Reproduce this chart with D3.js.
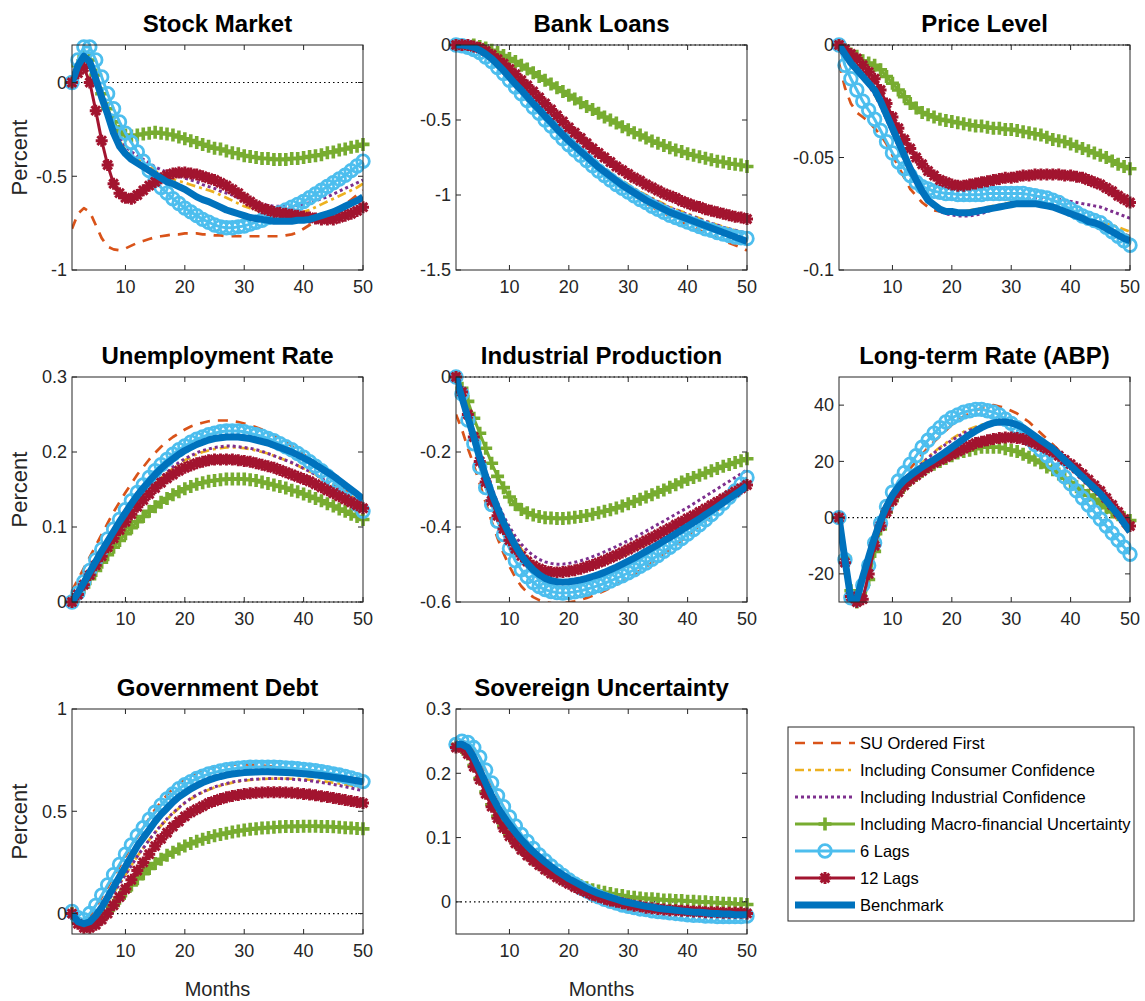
<!DOCTYPE html>
<html>
<head>
<meta charset="utf-8">
<script src="https://cdn.jsdelivr.net/npm/d3@7"></script>
<style>
  html, body { margin: 0; padding: 0; background: #ffffff; }
  svg { display: block; font-family: "Liberation Sans", Arial, sans-serif; }
</style>
</head>
<body>
<svg id="chart" width="1145" height="1001"></svg>
<script>
// Impulse responses to a sovereign-uncertainty shock, months 1..50.
// Each panel array holds seven series in this order:
// SU ordered first, consumer confidence, industrial confidence,
// macro-financial uncertainty, 6 lags, 12 lags, benchmark.
const months = d3.range(1, 51);

const seriesNames = [
  "SU Ordered First",
  "Including Consumer Confidence",
  "Including Industrial Confidence",
  "Including Macro-financial Uncertainty",
  "6 Lags",
  "12 Lags",
  "Benchmark"
];

const panelTitles = [
  "Stock Market", "Bank Loans", "Price Level",
  "Unemployment Rate", "Industrial Production", "Long-term Rate (ABP)",
  "Government Debt", "Sovereign Uncertainty"
];

const xTicks = [10, 20, 30, 40, 50];

const stockMarketTicks = [-1, -0.5, 0];
const bankLoansTicks = [-1.5, -1, -0.5, 0];
const priceLevelTicks = [-0.1, -0.05, 0];
const unemploymentTicks = [0, 0.1, 0.2, 0.3];
const industrialTicks = [-0.6, -0.4, -0.2, 0];
const longRateTicks = [-20, 0, 20, 40];
const debtTicks = [0, 0.5, 1];
const sovereignTicks = [0, 0.1, 0.2, 0.3];

const stockMarketRange = [-1, 0.2];
const bankLoansRange = [-1.5, 0];
const priceLevelRange = [-0.1, 0];
const unemploymentRange = [0, 0.3];
const industrialRange = [-0.6, 0];
const longRateRange = [-30, 50];
const debtRange = [-0.1, 1];
const sovereignRange = [-0.05, 0.3];

const stockMarket = [
  [-0.78,-0.70,-0.67,-0.69,-0.76,-0.83,-0.875,-0.89,-0.895,-0.885,
   -0.87,-0.855,-0.845,-0.835,-0.825,-0.82,-0.815,-0.81,-0.81,-0.805,
   -0.805,-0.805,-0.81,-0.81,-0.815,-0.815,-0.82,-0.82,-0.82,-0.82,
   -0.82,-0.82,-0.82,-0.82,-0.82,-0.82,-0.815,-0.81,-0.80,-0.78,
   -0.76,-0.74,-0.72,-0.705,-0.69,-0.67,-0.65,-0.625,-0.60,-0.575],
  [0,0.08,0.13,0.11,0.03,-0.06,-0.15,-0.24,-0.31,-0.36,
   -0.39,-0.41,-0.43,-0.45,-0.47,-0.49,-0.50,-0.515,-0.525,-0.535,
   -0.545,-0.555,-0.565,-0.575,-0.585,-0.60,-0.615,-0.63,-0.645,-0.66,
   -0.67,-0.68,-0.69,-0.695,-0.70,-0.705,-0.705,-0.70,-0.695,-0.69,
   -0.68,-0.665,-0.65,-0.635,-0.62,-0.605,-0.59,-0.575,-0.56,-0.54],
  [0,0.09,0.14,0.12,0.04,-0.05,-0.14,-0.22,-0.29,-0.34,
   -0.37,-0.39,-0.41,-0.43,-0.45,-0.465,-0.48,-0.49,-0.50,-0.51,
   -0.52,-0.53,-0.545,-0.555,-0.565,-0.58,-0.59,-0.60,-0.615,-0.625,
   -0.635,-0.645,-0.65,-0.655,-0.66,-0.66,-0.66,-0.66,-0.655,-0.65,
   -0.64,-0.63,-0.62,-0.61,-0.595,-0.58,-0.565,-0.55,-0.535,-0.52],
  [0,0.09,0.14,0.12,0.04,-0.06,-0.14,-0.21,-0.26,-0.28,
   -0.285,-0.28,-0.275,-0.27,-0.265,-0.27,-0.275,-0.28,-0.29,-0.30,
   -0.31,-0.32,-0.33,-0.34,-0.35,-0.355,-0.365,-0.375,-0.38,-0.39,
   -0.395,-0.40,-0.405,-0.405,-0.41,-0.41,-0.41,-0.405,-0.405,-0.40,
   -0.395,-0.39,-0.385,-0.375,-0.37,-0.36,-0.355,-0.345,-0.34,-0.33],
  [0,0.12,0.19,0.19,0.12,0.03,-0.06,-0.14,-0.21,-0.27,
   -0.32,-0.37,-0.42,-0.47,-0.52,-0.56,-0.59,-0.62,-0.645,-0.67,
   -0.69,-0.71,-0.73,-0.745,-0.76,-0.77,-0.775,-0.775,-0.77,-0.765,
   -0.755,-0.745,-0.735,-0.72,-0.71,-0.695,-0.68,-0.665,-0.65,-0.635,
   -0.615,-0.595,-0.575,-0.555,-0.535,-0.515,-0.495,-0.47,-0.445,-0.42],
  [0,0.05,0.08,0.0,-0.15,-0.31,-0.44,-0.54,-0.59,-0.615,
   -0.62,-0.60,-0.575,-0.55,-0.53,-0.51,-0.495,-0.485,-0.48,-0.48,
   -0.485,-0.49,-0.50,-0.51,-0.52,-0.535,-0.55,-0.57,-0.59,-0.615,
   -0.635,-0.655,-0.67,-0.68,-0.69,-0.695,-0.70,-0.705,-0.71,-0.715,
   -0.72,-0.725,-0.73,-0.73,-0.73,-0.72,-0.71,-0.70,-0.685,-0.665],
  [0,0.09,0.14,0.11,0.02,-0.08,-0.17,-0.27,-0.34,-0.38,
   -0.41,-0.43,-0.45,-0.47,-0.49,-0.51,-0.53,-0.54,-0.555,-0.57,
   -0.59,-0.61,-0.625,-0.635,-0.65,-0.665,-0.68,-0.69,-0.70,-0.71,
   -0.72,-0.725,-0.73,-0.735,-0.74,-0.74,-0.74,-0.74,-0.735,-0.735,
   -0.73,-0.72,-0.71,-0.70,-0.69,-0.675,-0.66,-0.645,-0.63,-0.61]
];

const bankLoans = [
  [0,-0.005,-0.015,-0.03,-0.05,-0.08,-0.11,-0.15,-0.19,-0.235,
   -0.28,-0.325,-0.37,-0.415,-0.455,-0.50,-0.54,-0.58,-0.62,-0.66,
   -0.695,-0.73,-0.765,-0.80,-0.835,-0.865,-0.895,-0.925,-0.955,-0.98,
   -1.005,-1.03,-1.055,-1.08,-1.10,-1.12,-1.14,-1.16,-1.18,-1.20,
   -1.215,-1.235,-1.25,-1.27,-1.285,-1.30,-1.32,-1.335,-1.35,-1.37],
  [0,0,-0.005,-0.015,-0.03,-0.055,-0.085,-0.12,-0.16,-0.20,
   -0.245,-0.29,-0.33,-0.375,-0.415,-0.455,-0.50,-0.54,-0.58,-0.615,
   -0.655,-0.69,-0.725,-0.76,-0.79,-0.82,-0.85,-0.88,-0.905,-0.93,
   -0.955,-0.98,-1.0,-1.02,-1.04,-1.06,-1.08,-1.095,-1.11,-1.125,
   -1.14,-1.155,-1.17,-1.185,-1.20,-1.21,-1.225,-1.235,-1.245,-1.26],
  [0,0,-0.005,-0.015,-0.035,-0.06,-0.09,-0.125,-0.165,-0.205,
   -0.25,-0.295,-0.335,-0.38,-0.42,-0.46,-0.505,-0.545,-0.585,-0.62,
   -0.66,-0.695,-0.73,-0.765,-0.795,-0.825,-0.855,-0.885,-0.91,-0.935,
   -0.96,-0.985,-1.005,-1.025,-1.045,-1.065,-1.085,-1.10,-1.115,-1.13,
   -1.145,-1.16,-1.175,-1.19,-1.20,-1.215,-1.225,-1.235,-1.245,-1.255],
  [0,0.005,0.005,0,-0.01,-0.02,-0.035,-0.05,-0.07,-0.09,
   -0.11,-0.135,-0.16,-0.185,-0.21,-0.235,-0.26,-0.285,-0.31,-0.335,
   -0.36,-0.385,-0.41,-0.43,-0.455,-0.48,-0.50,-0.52,-0.545,-0.565,
   -0.585,-0.60,-0.62,-0.64,-0.655,-0.67,-0.685,-0.70,-0.71,-0.725,
   -0.735,-0.745,-0.755,-0.765,-0.775,-0.78,-0.79,-0.795,-0.80,-0.81],
  [0,-0.005,-0.015,-0.03,-0.05,-0.08,-0.11,-0.15,-0.19,-0.235,
   -0.28,-0.325,-0.37,-0.415,-0.455,-0.50,-0.54,-0.585,-0.625,-0.665,
   -0.70,-0.735,-0.77,-0.805,-0.84,-0.87,-0.90,-0.93,-0.955,-0.98,
   -1.005,-1.03,-1.05,-1.075,-1.095,-1.115,-1.135,-1.15,-1.165,-1.18,
   -1.195,-1.21,-1.225,-1.235,-1.25,-1.26,-1.27,-1.28,-1.285,-1.29],
  [0,0,0,-0.01,-0.02,-0.04,-0.065,-0.095,-0.125,-0.16,
   -0.195,-0.235,-0.27,-0.31,-0.35,-0.39,-0.43,-0.47,-0.51,-0.55,
   -0.585,-0.62,-0.655,-0.69,-0.72,-0.75,-0.78,-0.81,-0.835,-0.86,
   -0.885,-0.905,-0.93,-0.95,-0.97,-0.99,-1.005,-1.02,-1.04,-1.055,
   -1.07,-1.08,-1.095,-1.105,-1.115,-1.125,-1.135,-1.145,-1.15,-1.16],
  [0,0,-0.005,-0.015,-0.035,-0.06,-0.09,-0.13,-0.17,-0.215,
   -0.26,-0.30,-0.345,-0.39,-0.43,-0.475,-0.515,-0.56,-0.60,-0.64,
   -0.675,-0.71,-0.745,-0.78,-0.815,-0.845,-0.875,-0.905,-0.935,-0.96,
   -0.985,-1.01,-1.035,-1.055,-1.075,-1.095,-1.115,-1.13,-1.145,-1.16,
   -1.175,-1.19,-1.205,-1.22,-1.235,-1.25,-1.265,-1.28,-1.295,-1.31]
];

const priceLevel = [
  [-0.008,-0.019,-0.026,-0.03,-0.032,-0.034,-0.037,-0.04,-0.044,-0.049,
   -0.054,-0.059,-0.064,-0.067,-0.07,-0.072,-0.0735,-0.074,-0.0745,-0.075,
   -0.075,-0.075,-0.0745,-0.074,-0.0735,-0.073,-0.0725,-0.072,-0.0715,-0.071,
   -0.071,-0.071,-0.071,-0.071,-0.0715,-0.072,-0.0725,-0.073,-0.074,-0.075,
   -0.0765,-0.078,-0.0785,-0.079,-0.080,-0.081,-0.082,-0.083,-0.084,-0.085],
  [0,-0.005,-0.009,-0.012,-0.015,-0.018,-0.022,-0.027,-0.033,-0.039,
   -0.045,-0.051,-0.057,-0.062,-0.066,-0.069,-0.071,-0.072,-0.073,-0.0735,
   -0.074,-0.074,-0.0735,-0.073,-0.0725,-0.072,-0.0715,-0.071,-0.0705,-0.070,
   -0.070,-0.070,-0.070,-0.070,-0.0705,-0.071,-0.0715,-0.072,-0.073,-0.074,
   -0.075,-0.076,-0.077,-0.078,-0.079,-0.0795,-0.080,-0.081,-0.082,-0.083],
  [0,-0.004,-0.008,-0.012,-0.015,-0.018,-0.022,-0.027,-0.033,-0.039,
   -0.045,-0.051,-0.057,-0.062,-0.066,-0.070,-0.072,-0.074,-0.075,-0.0755,
   -0.076,-0.076,-0.076,-0.0755,-0.075,-0.074,-0.073,-0.072,-0.071,-0.070,
   -0.0695,-0.069,-0.0685,-0.068,-0.068,-0.068,-0.068,-0.0685,-0.069,-0.0695,
   -0.070,-0.0705,-0.071,-0.0715,-0.072,-0.073,-0.074,-0.075,-0.076,-0.077],
  [0,-0.002,-0.004,-0.005,-0.007,-0.008,-0.009,-0.011,-0.014,-0.017,
   -0.020,-0.023,-0.026,-0.028,-0.030,-0.031,-0.032,-0.033,-0.0335,-0.034,
   -0.0345,-0.035,-0.0355,-0.036,-0.036,-0.0365,-0.037,-0.037,-0.0375,-0.0375,
   -0.038,-0.0385,-0.039,-0.0395,-0.040,-0.041,-0.042,-0.0425,-0.043,-0.044,
   -0.045,-0.046,-0.047,-0.048,-0.049,-0.050,-0.0515,-0.053,-0.054,-0.055],
  [0,-0.009,-0.015,-0.02,-0.025,-0.029,-0.033,-0.038,-0.043,-0.048,
   -0.052,-0.055,-0.058,-0.061,-0.063,-0.064,-0.065,-0.0655,-0.066,-0.066,
   -0.0665,-0.0665,-0.0665,-0.0665,-0.0665,-0.066,-0.066,-0.066,-0.066,-0.066,
   -0.066,-0.066,-0.0665,-0.067,-0.0675,-0.068,-0.069,-0.070,-0.0715,-0.073,
   -0.0745,-0.076,-0.077,-0.078,-0.079,-0.081,-0.083,-0.085,-0.087,-0.089],
  [0,-0.002,-0.004,-0.006,-0.009,-0.012,-0.015,-0.020,-0.026,-0.032,
   -0.037,-0.042,-0.046,-0.050,-0.053,-0.056,-0.058,-0.060,-0.061,-0.062,
   -0.0625,-0.0625,-0.062,-0.0615,-0.061,-0.0605,-0.060,-0.0595,-0.059,-0.059,
   -0.0585,-0.058,-0.058,-0.0575,-0.0575,-0.0575,-0.0575,-0.0575,-0.058,-0.058,
   -0.0585,-0.059,-0.060,-0.061,-0.062,-0.0635,-0.065,-0.067,-0.0685,-0.070],
  [0,-0.004,-0.008,-0.011,-0.014,-0.017,-0.020,-0.025,-0.031,-0.037,
   -0.043,-0.049,-0.055,-0.060,-0.065,-0.069,-0.071,-0.073,-0.074,-0.074,
   -0.0745,-0.0745,-0.0745,-0.074,-0.0735,-0.073,-0.0725,-0.072,-0.0715,-0.071,
   -0.0705,-0.0705,-0.0705,-0.0705,-0.071,-0.0715,-0.072,-0.073,-0.074,-0.075,
   -0.076,-0.077,-0.0785,-0.079,-0.080,-0.0815,-0.083,-0.0845,-0.086,-0.087]
];

const unemploymentRate = [
  [0.015,0.03,0.045,0.06,0.075,0.09,0.105,0.12,0.133,0.146,
   0.158,0.17,0.18,0.19,0.199,0.207,0.214,0.22,0.225,0.23,
   0.234,0.237,0.239,0.241,0.242,0.242,0.242,0.241,0.24,0.238,
   0.236,0.233,0.23,0.226,0.222,0.218,0.213,0.208,0.203,0.197,
   0.191,0.185,0.179,0.172,0.165,0.158,0.151,0.144,0.137,0.13],
  [0,0.011,0.024,0.037,0.05,0.063,0.075,0.087,0.099,0.11,
   0.121,0.131,0.14,0.149,0.157,0.165,0.172,0.178,0.184,0.189,
   0.193,0.197,0.2,0.202,0.204,0.205,0.206,0.206,0.206,0.205,
   0.204,0.202,0.2,0.198,0.195,0.192,0.189,0.185,0.182,0.178,
   0.174,0.17,0.165,0.161,0.156,0.151,0.146,0.141,0.136,0.131],
  [0,0.011,0.024,0.037,0.05,0.063,0.075,0.087,0.099,0.11,
   0.121,0.131,0.141,0.15,0.158,0.166,0.173,0.18,0.186,0.191,
   0.195,0.199,0.202,0.204,0.206,0.207,0.208,0.208,0.207,0.206,
   0.205,0.203,0.201,0.198,0.195,0.192,0.189,0.186,0.182,0.178,
   0.174,0.17,0.165,0.16,0.155,0.15,0.145,0.14,0.135,0.13],
  [0,0.009,0.02,0.031,0.042,0.053,0.063,0.073,0.082,0.091,
   0.099,0.107,0.114,0.121,0.127,0.133,0.138,0.143,0.147,0.151,
   0.154,0.157,0.159,0.161,0.162,0.163,0.164,0.164,0.164,0.164,
   0.163,0.162,0.16,0.158,0.156,0.154,0.152,0.149,0.147,0.144,
   0.141,0.138,0.135,0.131,0.128,0.124,0.121,0.117,0.114,0.11],
  [0,0.012,0.027,0.042,0.056,0.07,0.084,0.097,0.11,0.123,
   0.135,0.146,0.156,0.166,0.175,0.183,0.19,0.197,0.203,0.208,
   0.213,0.217,0.22,0.223,0.225,0.227,0.228,0.228,0.228,0.227,
   0.225,0.223,0.221,0.218,0.215,0.211,0.207,0.203,0.198,0.193,
   0.187,0.181,0.175,0.168,0.161,0.154,0.146,0.138,0.13,0.121],
  [0,0.01,0.023,0.036,0.049,0.061,0.073,0.085,0.096,0.107,
   0.117,0.127,0.136,0.144,0.152,0.159,0.165,0.17,0.175,0.179,
   0.182,0.185,0.187,0.189,0.19,0.19,0.19,0.19,0.189,0.188,
   0.187,0.185,0.183,0.181,0.179,0.176,0.173,0.17,0.167,0.164,
   0.161,0.157,0.153,0.149,0.145,0.141,0.137,0.133,0.129,0.125],
  [0,0.012,0.026,0.04,0.054,0.068,0.081,0.094,0.107,0.119,
   0.131,0.142,0.152,0.161,0.17,0.178,0.185,0.191,0.197,0.202,
   0.206,0.21,0.213,0.216,0.218,0.219,0.22,0.22,0.22,0.219,
   0.218,0.216,0.214,0.212,0.209,0.206,0.203,0.2,0.196,0.192,
   0.188,0.183,0.178,0.173,0.168,0.162,0.156,0.15,0.144,0.137]
];

const industrialProduction = [
  [-0.1,-0.14,-0.19,-0.235,-0.285,-0.335,-0.385,-0.43,-0.47,-0.505,
   -0.535,-0.558,-0.575,-0.587,-0.595,-0.6,-0.603,-0.604,-0.603,-0.601,
   -0.598,-0.594,-0.589,-0.583,-0.577,-0.57,-0.562,-0.554,-0.545,-0.536,
   -0.526,-0.516,-0.506,-0.495,-0.484,-0.472,-0.46,-0.448,-0.436,-0.423,
   -0.41,-0.397,-0.383,-0.37,-0.356,-0.342,-0.328,-0.314,-0.3,-0.286],
  [0,-0.05,-0.103,-0.155,-0.207,-0.256,-0.3,-0.34,-0.376,-0.407,
   -0.435,-0.459,-0.478,-0.494,-0.506,-0.514,-0.519,-0.522,-0.523,-0.522,
   -0.52,-0.517,-0.513,-0.508,-0.503,-0.497,-0.491,-0.484,-0.477,-0.469,
   -0.461,-0.453,-0.444,-0.435,-0.426,-0.417,-0.408,-0.398,-0.389,-0.379,
   -0.369,-0.359,-0.349,-0.339,-0.329,-0.319,-0.309,-0.299,-0.289,-0.279],
  [0,-0.05,-0.1,-0.15,-0.2,-0.25,-0.295,-0.335,-0.37,-0.4,
   -0.425,-0.446,-0.463,-0.476,-0.486,-0.493,-0.497,-0.499,-0.499,-0.497,
   -0.494,-0.49,-0.485,-0.479,-0.473,-0.466,-0.459,-0.452,-0.444,-0.436,
   -0.428,-0.42,-0.411,-0.402,-0.393,-0.384,-0.375,-0.366,-0.357,-0.348,
   -0.338,-0.328,-0.318,-0.308,-0.298,-0.288,-0.278,-0.268,-0.258,-0.248],
  [0,-0.03,-0.065,-0.11,-0.15,-0.19,-0.23,-0.265,-0.295,-0.32,
   -0.34,-0.353,-0.362,-0.368,-0.372,-0.375,-0.376,-0.377,-0.377,-0.376,
   -0.374,-0.372,-0.369,-0.366,-0.362,-0.358,-0.354,-0.349,-0.344,-0.338,
   -0.332,-0.326,-0.32,-0.314,-0.307,-0.301,-0.294,-0.287,-0.28,-0.273,
   -0.268,-0.262,-0.256,-0.25,-0.244,-0.238,-0.233,-0.228,-0.223,-0.218],
  [0,-0.045,-0.115,-0.178,-0.24,-0.295,-0.34,-0.385,-0.42,-0.457,
   -0.49,-0.514,-0.533,-0.548,-0.559,-0.567,-0.572,-0.575,-0.576,-0.575,
   -0.573,-0.57,-0.566,-0.561,-0.556,-0.55,-0.544,-0.537,-0.53,-0.522,
   -0.514,-0.505,-0.496,-0.486,-0.476,-0.465,-0.454,-0.443,-0.431,-0.419,
   -0.407,-0.394,-0.381,-0.367,-0.352,-0.337,-0.321,-0.304,-0.286,-0.268],
  [0,-0.04,-0.1,-0.16,-0.225,-0.28,-0.33,-0.37,-0.405,-0.435,
   -0.458,-0.477,-0.492,-0.503,-0.511,-0.517,-0.52,-0.521,-0.52,-0.518,
   -0.515,-0.511,-0.506,-0.501,-0.495,-0.489,-0.482,-0.475,-0.468,-0.46,
   -0.452,-0.444,-0.436,-0.428,-0.42,-0.411,-0.403,-0.394,-0.386,-0.377,
   -0.369,-0.36,-0.351,-0.342,-0.333,-0.324,-0.315,-0.306,-0.297,-0.288],
  [0,-0.055,-0.108,-0.16,-0.215,-0.265,-0.31,-0.35,-0.388,-0.42,
   -0.45,-0.476,-0.497,-0.514,-0.527,-0.537,-0.543,-0.546,-0.547,-0.546,
   -0.544,-0.541,-0.537,-0.532,-0.527,-0.521,-0.514,-0.507,-0.499,-0.491,
   -0.483,-0.474,-0.465,-0.456,-0.447,-0.437,-0.428,-0.418,-0.408,-0.398,
   -0.388,-0.378,-0.367,-0.357,-0.346,-0.335,-0.324,-0.313,-0.302,-0.29]
];

const longTermRate = [
  [0,-18,-30,-30,-23,-15,-7,-1,4,8,
   11.5,14.5,17.5,20,22.5,25,27,29,31,33,
   34.5,36,37,38,39,39.5,40,39.5,39,38,
   37,35.5,34,32,30,28,26,24,21.5,19,
   16.5,14,11.5,9,6.5,4,1.5,-1,-3.5,-6],
  [0,-15,-29,-29,-21,-14,-7,-1,4,8,
   11,13.5,15.5,17.5,19.5,21.5,23.3,25,26.5,28,
   29.3,30.5,31.5,32.3,33,33.5,33.8,34,33.8,33.5,
   32.8,31.8,30.6,29.3,28,26.5,25,23.2,21.3,19.3,
   17.3,15.2,13,10.8,8.6,6.3,4,1.5,-1,-3.5],
  [0,-15,-29,-29,-21,-14,-7,-1,4,8,
   11,13.5,15.5,17.5,19.3,21.2,23,24.6,26.1,27.5,
   28.8,30,31,31.8,32.5,33,33.2,33.3,33.2,32.9,
   32.3,31.4,30.3,29,27.7,26.2,24.7,23,21.2,19.2,
   17.2,15.1,13,10.8,8.6,6.3,4,1.6,-0.8,-3.2],
  [0,-14,-26,-30,-31,-22,-12,-4,2,6,
   9,11.5,13.5,15,16.5,18,19,20,21,22,
   23,23.5,24,24.5,25,25,25,25,24.5,24,
   23.5,22.5,21.5,20.5,19.5,18,17,15.5,14,12.5,
   11,9.5,8,6.5,5,3.5,2,1,0,-1],
  [0,-15,-28.5,-29,-24,-17,-9,-2,4,9,
   13,16,19,22,25,27.5,30,32,34,35.5,
   36.5,37.5,38,38.5,38.5,38,37.5,36.5,35,33.5,
   32,30,28,26,24,22,19.5,17,14.5,12,
   9.5,7,4.5,2,-0.5,-3,-5.5,-8,-10.5,-13],
  [0,-16,-28,-30,-29,-20,-10,-3,2,6,
   9,11.5,13.5,15,16.5,18,19.5,20.5,21.5,22.5,
   23.5,24.5,25.5,26.5,27,27.5,28,28.3,28.5,28.5,
   28.3,28,27.3,26.5,25.5,24.5,23.5,22,20.5,19,
   17.5,15.5,13.5,11.5,9.5,7,4.5,2,-0.5,-3],
  [0,-15,-29,-29,-21,-14,-7,-1,4,8,
   11,13.3,15,16.5,18,19.3,20.6,22,23.5,25,
   26.5,28,29.5,30.8,32,33,33.7,34,34,33.7,
   33,32,30.5,29,27.5,26,24.5,22.5,20.5,18.5,
   16.5,14.5,12.5,10.5,8.5,6,3.5,1,-2,-5]
];

const governmentDebt = [
  [0.01,-0.02,-0.03,-0.01,0.03,0.08,0.13,0.18,0.23,0.28,
   0.33,0.375,0.42,0.465,0.51,0.545,0.58,0.61,0.635,0.655,
   0.673,0.688,0.7,0.71,0.717,0.722,0.726,0.728,0.729,0.729,
   0.728,0.726,0.724,0.721,0.718,0.714,0.71,0.705,0.7,0.695,
   0.689,0.683,0.677,0.67,0.663,0.656,0.649,0.641,0.633,0.625],
  [0,-0.04,-0.05,-0.04,-0.015,0.02,0.06,0.1,0.145,0.19,
   0.235,0.28,0.32,0.36,0.395,0.43,0.46,0.49,0.515,0.54,
   0.56,0.577,0.592,0.605,0.616,0.625,0.633,0.64,0.645,0.65,
   0.653,0.656,0.658,0.659,0.66,0.66,0.66,0.659,0.658,0.656,
   0.654,0.651,0.648,0.644,0.64,0.636,0.631,0.626,0.621,0.615],
  [0,-0.04,-0.05,-0.04,-0.015,0.02,0.06,0.1,0.145,0.19,
   0.235,0.28,0.32,0.36,0.397,0.432,0.463,0.492,0.518,0.542,
   0.563,0.58,0.595,0.608,0.619,0.628,0.636,0.643,0.648,0.652,
   0.655,0.657,0.659,0.66,0.66,0.66,0.659,0.657,0.655,0.652,
   0.649,0.645,0.641,0.636,0.631,0.626,0.62,0.614,0.607,0.6],
  [0,-0.04,-0.06,-0.06,-0.045,-0.02,0.01,0.04,0.075,0.11,
   0.14,0.17,0.195,0.22,0.245,0.265,0.285,0.3,0.315,0.33,
   0.342,0.353,0.363,0.372,0.38,0.387,0.393,0.399,0.404,0.408,
   0.412,0.415,0.418,0.42,0.422,0.424,0.425,0.426,0.426,0.427,
   0.427,0.427,0.426,0.425,0.424,0.422,0.42,0.418,0.416,0.414],
  [0.01,-0.02,-0.03,0.0,0.04,0.09,0.14,0.19,0.24,0.29,
   0.335,0.38,0.42,0.46,0.495,0.53,0.56,0.585,0.61,0.63,
   0.645,0.66,0.672,0.682,0.69,0.697,0.703,0.707,0.711,0.713,
   0.715,0.716,0.716,0.716,0.715,0.714,0.712,0.71,0.708,0.705,
   0.702,0.698,0.694,0.689,0.683,0.677,0.67,0.663,0.654,0.645],
  [0,-0.05,-0.07,-0.07,-0.055,-0.03,0.0,0.04,0.08,0.12,
   0.165,0.21,0.25,0.29,0.33,0.365,0.395,0.425,0.45,0.475,
   0.495,0.51,0.525,0.54,0.55,0.56,0.568,0.575,0.58,0.585,
   0.588,0.59,0.592,0.593,0.593,0.593,0.592,0.59,0.588,0.585,
   0.582,0.578,0.574,0.57,0.565,0.56,0.555,0.55,0.545,0.54],
  [0,-0.04,-0.05,-0.04,-0.01,0.03,0.08,0.13,0.18,0.23,
   0.28,0.33,0.37,0.41,0.45,0.485,0.515,0.545,0.57,0.59,
   0.61,0.625,0.64,0.652,0.662,0.67,0.677,0.682,0.686,0.689,
   0.691,0.692,0.693,0.693,0.692,0.691,0.69,0.688,0.686,0.684,
   0.681,0.678,0.675,0.671,0.667,0.663,0.659,0.654,0.649,0.644]
];

const sovereignUncertainty = [
  [0.245,0.25,0.247,0.238,0.222,0.203,0.183,0.164,0.147,0.131,
   0.117,0.104,0.093,0.082,0.072,0.063,0.055,0.047,0.04,0.034,
   0.028,0.022,0.017,0.012,0.008,0.004,0.001,-0.002,-0.005,-0.007,
   -0.009,-0.011,-0.012,-0.013,-0.015,-0.016,-0.017,-0.018,-0.019,-0.019,
   -0.02,-0.021,-0.021,-0.022,-0.022,-0.022,-0.022,-0.022,-0.022,-0.022],
  [0.245,0.245,0.238,0.222,0.202,0.182,0.163,0.146,0.131,0.118,
   0.106,0.095,0.085,0.076,0.068,0.061,0.054,0.047,0.041,0.035,
   0.03,0.025,0.021,0.017,0.013,0.01,0.007,0.004,0.001,-0.001,
   -0.003,-0.005,-0.006,-0.008,-0.009,-0.01,-0.011,-0.012,-0.013,-0.014,
   -0.015,-0.015,-0.016,-0.016,-0.017,-0.017,-0.018,-0.018,-0.018,-0.019],
  [0.245,0.244,0.237,0.221,0.201,0.181,0.162,0.145,0.13,0.117,
   0.105,0.094,0.084,0.075,0.067,0.06,0.053,0.046,0.04,0.034,
   0.029,0.024,0.02,0.016,0.012,0.009,0.006,0.003,0.001,-0.001,
   -0.003,-0.004,-0.006,-0.007,-0.008,-0.009,-0.01,-0.011,-0.012,-0.013,
   -0.013,-0.014,-0.014,-0.015,-0.015,-0.016,-0.016,-0.016,-0.017,-0.017],
  [0.245,0.24,0.23,0.212,0.192,0.171,0.151,0.133,0.118,0.105,
   0.093,0.083,0.074,0.066,0.059,0.052,0.046,0.041,0.036,0.032,
   0.028,0.025,0.022,0.019,0.017,0.015,0.013,0.011,0.01,0.008,
   0.007,0.006,0.005,0.005,0.004,0.003,0.003,0.002,0.002,0.001,
   0.001,0,0,-0.001,-0.001,-0.002,-0.002,-0.003,-0.003,-0.004],
  [0.245,0.25,0.248,0.24,0.225,0.205,0.185,0.165,0.148,0.132,
   0.118,0.105,0.094,0.083,0.073,0.064,0.056,0.048,0.041,0.034,
   0.028,0.022,0.017,0.012,0.008,0.004,0.001,-0.002,-0.005,-0.007,
   -0.009,-0.011,-0.012,-0.014,-0.015,-0.016,-0.017,-0.018,-0.019,-0.02,
   -0.021,-0.021,-0.022,-0.022,-0.023,-0.023,-0.023,-0.023,-0.023,-0.022],
  [0.24,0.24,0.23,0.21,0.19,0.168,0.148,0.13,0.115,0.102,
   0.091,0.081,0.072,0.064,0.057,0.05,0.044,0.038,0.033,0.028,
   0.023,0.019,0.015,0.011,0.008,0.005,0.002,0,-0.002,-0.004,
   -0.006,-0.007,-0.009,-0.01,-0.011,-0.012,-0.013,-0.013,-0.014,-0.014,
   -0.015,-0.015,-0.016,-0.016,-0.016,-0.017,-0.017,-0.017,-0.017,-0.018],
  [0.245,0.245,0.24,0.225,0.205,0.185,0.165,0.148,0.133,0.12,
   0.108,0.097,0.087,0.078,0.07,0.062,0.055,0.048,0.042,0.036,
   0.031,0.026,0.021,0.017,0.013,0.01,0.007,0.004,0.001,-0.001,
   -0.003,-0.005,-0.007,-0.008,-0.01,-0.011,-0.012,-0.013,-0.014,-0.015,
   -0.016,-0.016,-0.017,-0.018,-0.018,-0.019,-0.019,-0.02,-0.02,-0.02]
];

// ---- panel definitions ----
const panels = [
  { title: panelTitles[0], data: stockMarket, domain: stockMarketRange, ticks: stockMarketTicks, col: 0, row: 0 },
  { title: panelTitles[1], data: bankLoans, domain: bankLoansRange, ticks: bankLoansTicks, col: 1, row: 0 },
  { title: panelTitles[2], data: priceLevel, domain: priceLevelRange, ticks: priceLevelTicks, col: 2, row: 0 },
  { title: panelTitles[3], data: unemploymentRate, domain: unemploymentRange, ticks: unemploymentTicks, col: 0, row: 1 },
  { title: panelTitles[4], data: industrialProduction, domain: industrialRange, ticks: industrialTicks, col: 1, row: 1 },
  { title: panelTitles[5], data: longTermRate, domain: longRateRange, ticks: longRateTicks, col: 2, row: 1 },
  { title: panelTitles[6], data: governmentDebt, domain: debtRange, ticks: debtTicks, col: 0, row: 2 },
  { title: panelTitles[7], data: sovereignUncertainty, domain: sovereignRange, ticks: sovereignTicks, col: 1, row: 2 }
];

// sanity check on series lengths
panels.forEach(p => p.data.forEach((s, i) => {
  if (s.length !== months.length) throw new Error(p.title + " series " + i + " has " + s.length + " points");
}));

// ---- styling ----
const seriesStyle = [
  { color: "#D95319", width: 2.7, dash: "10,8", marker: null },
  { color: "#EDB120", width: 2.7, dash: "9,4,3,4", marker: null },
  { color: "#7E2F8E", width: 3, dash: "3,3", marker: null },
  { color: "#77AC30", width: 3, dash: null, marker: "plus" },
  { color: "#4DBEEE", width: 3, dash: null, marker: "circle" },
  { color: "#A2142F", width: 3, dash: null, marker: "star" },
  { color: "#0072BD", width: 7, dash: null, marker: null }
];

const colLeft = [72, 456, 839];
const rowTop = [45, 377, 709];
const plotW = 291, plotH = 225;
const axisColor = "#262626";
const tickLen = 5;

const svg = d3.select("#chart");
const defs = svg.append("defs");

function drawMarker(g, type, x, y, color) {
  if (type === "circle") {
    g.append("circle").attr("cx", x).attr("cy", y).attr("r", 6.3)
      .attr("fill", "none").attr("stroke", color).attr("stroke-width", 2.8);
  } else if (type === "plus") {
    const s = 6.5;
    g.append("path").attr("d", `M${x - s},${y}H${x + s}M${x},${y - s}V${y + s}`)
      .attr("stroke", color).attr("stroke-width", 3.6).attr("fill", "none");
  } else if (type === "star") {
    const s = 6, d = s * 0.72;
    g.append("path")
      .attr("d", `M${x - s},${y}H${x + s}M${x},${y - s}V${y + s}M${x - d},${y - d}L${x + d},${y + d}M${x - d},${y + d}L${x + d},${y - d}`)
      .attr("stroke", color).attr("stroke-width", 3).attr("fill", "none");
  }
}

panels.forEach((p, pi) => {
  const left = colLeft[p.col], top = rowTop[p.row];
  const x = d3.scaleLinear().domain([1, 50]).range([left, left + plotW]);
  const y = d3.scaleLinear().domain(p.domain).range([top + plotH, top]);

  const clipId = "clip" + pi;
  defs.append("clipPath").attr("id", clipId)
    .append("rect").attr("x", left).attr("y", top).attr("width", plotW).attr("height", plotH);

  const g = svg.append("g");

  // white plot area
  g.append("rect").attr("x", left).attr("y", top).attr("width", plotW).attr("height", plotH)
    .attr("fill", "#ffffff");

  // dotted zero reference line
  g.append("line")
    .attr("x1", x(1)).attr("x2", x(50)).attr("y1", y(0)).attr("y2", y(0))
    .attr("stroke", "#000000").attr("stroke-width", 1.2).attr("stroke-dasharray", "1.5,3");

  const line = d3.line().x((d, i) => x(months[i])).y(d => y(d));

  p.data.forEach((values, si) => {
    const st = seriesStyle[si];
    const sg = g.append("g");
    sg.append("path")
      .attr("d", line(values))
      .attr("clip-path", `url(#${clipId})`)
      .attr("fill", "none")
      .attr("stroke", st.color)
      .attr("stroke-width", st.width)
      .attr("stroke-linejoin", "round")
      .attr("stroke-dasharray", st.dash);
    if (st.marker) {
      const mg = sg.append("g");
      values.forEach((v, i) => {
        if (v >= p.domain[0] && v <= p.domain[1]) drawMarker(mg, st.marker, x(months[i]), y(v), st.color);
      });
    }
  });

  // axes box
  const ax = svg.append("g").attr("stroke", axisColor).attr("fill", "none");
  ax.append("rect").attr("x", left).attr("y", top).attr("width", plotW).attr("height", plotH)
    .attr("stroke-width", 1);

  // x ticks (bottom and top, inward)
  xTicks.forEach(t => {
    ax.append("line").attr("x1", x(t)).attr("x2", x(t)).attr("y1", top + plotH).attr("y2", top + plotH - tickLen);
    ax.append("line").attr("x1", x(t)).attr("x2", x(t)).attr("y1", top).attr("y2", top + tickLen);
  });
  // y ticks (left and right, inward)
  p.ticks.forEach(t => {
    ax.append("line").attr("x1", left).attr("x2", left + tickLen).attr("y1", y(t)).attr("y2", y(t));
    ax.append("line").attr("x1", left + plotW).attr("x2", left + plotW - tickLen).attr("y1", y(t)).attr("y2", y(t));
  });

  // tick labels
  const tl = svg.append("g").attr("fill", axisColor).attr("font-size", 18);
  xTicks.forEach(t => {
    tl.append("text").attr("x", x(t)).attr("y", top + plotH + 23)
      .attr("text-anchor", "middle").text(d3.format("d")(t));
  });
  p.ticks.forEach(t => {
    tl.append("text").attr("x", left - 5).attr("y", y(t)).attr("dy", "0.35em")
      .attr("text-anchor", "end").text(String(t));
  });

  // title
  svg.append("text").attr("x", left + plotW / 2).attr("y", top - 13)
    .attr("text-anchor", "middle").attr("font-size", 24).attr("font-weight", "bold")
    .attr("fill", "#000000").text(p.title);

  // axis labels
  if (p.col === 0) {
    svg.append("text")
      .attr("transform", `translate(27,${top + plotH / 2}) rotate(-90)`)
      .attr("text-anchor", "middle").attr("font-size", 22).attr("fill", axisColor)
      .text("Percent");
  }
  if (p.row === 2) {
    svg.append("text").attr("x", left + plotW / 2).attr("y", 996)
      .attr("text-anchor", "middle").attr("font-size", 20).attr("fill", axisColor)
      .text("Months");
  }
});

// ---- legend ----
const lg = svg.append("g");
lg.append("rect").attr("x", 788).attr("y", 727).attr("width", 346).attr("height", 194)
  .attr("fill", "#ffffff").attr("stroke", axisColor).attr("stroke-width", 1);
seriesNames.forEach((name, i) => {
  const st = seriesStyle[i];
  const cy = 743 + i * 27;
  lg.append("line").attr("x1", 795).attr("x2", 855).attr("y1", cy).attr("y2", cy)
    .attr("stroke", st.color).attr("stroke-width", st.width).attr("stroke-dasharray", st.dash);
  if (st.marker) drawMarker(lg, st.marker, 825, cy, st.color);
  lg.append("text").attr("x", 860).attr("y", cy).attr("dy", "0.35em")
    .attr("font-size", 16.5).attr("fill", "#000000").text(name);
});
</script>
</body>
</html>
